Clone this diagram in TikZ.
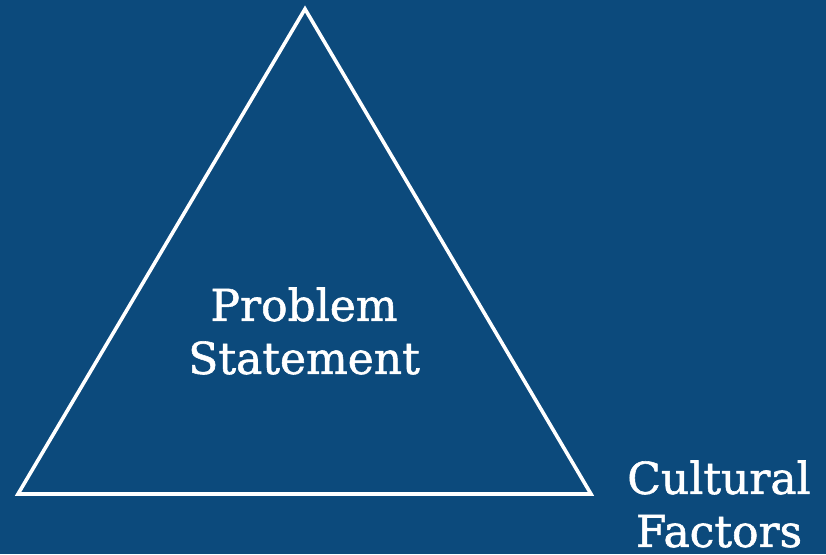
\documentclass[tikz,border=0pt]{standalone}
\usepackage{fontspec}
\setmainfont{DejaVu Serif}[FakeBold=1.3]
\definecolor{bgblue}{RGB}{12,74,124}
\begin{document}
\begin{tikzpicture}[x=1pt,y=-1pt,
  label text/.style={text=white, align=center, font=\fontsize{44}{53}\selectfont, inner sep=0pt},
  edge line/.style={draw=white, line width=3.6pt, line join=miter}]
\fill[bgblue] (0,0) rectangle (826,554);
\useasboundingbox (0,0) rectangle (826,554);
\coordinate (apex) at (305,9);
\coordinate (left) at (18,494);
\coordinate (right) at (591,494);
\draw[edge line] (apex) -- (left) -- (right) -- cycle;
\node[label text] (problem) at (304,331) {Problem\\Statement};
\node[label text] (culture) at (719,504) {Cultural\\Factors};
\end{tikzpicture}
\end{document}
